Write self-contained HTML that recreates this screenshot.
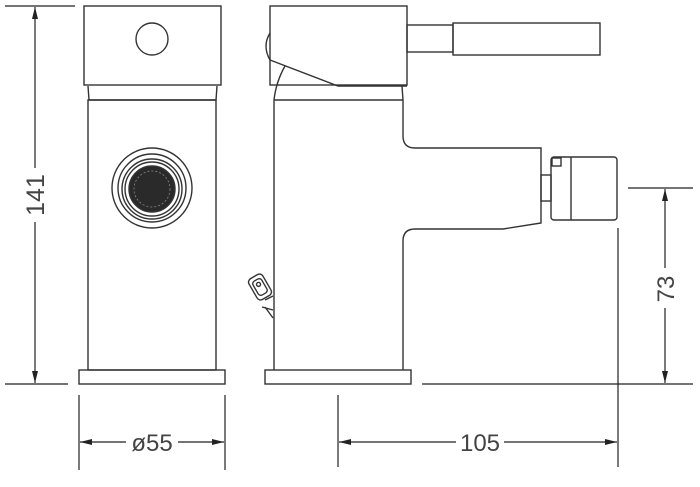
<!DOCTYPE html>
<html><head><style>html,body{margin:0;padding:0;background:#fff;}svg{display:block}</style></head>
<body>
<svg width="700" height="487" viewBox="0 0 700 487" xmlns="http://www.w3.org/2000/svg">
<defs>
<marker id="a" viewBox="0 0 12 6" refX="12" refY="3" markerWidth="12" markerHeight="6" orient="auto-start-reverse" markerUnits="userSpaceOnUse"><path d="M0,0 L12,3 L0,6 Z" fill="#222"/></marker>
</defs>
<g fill="none" stroke="#333" stroke-width="1.4">
<!-- left view -->
<rect x="84" y="6" width="137" height="79"/>
<circle cx="152" cy="39" r="16"/>
<path d="M88,86 L89,100 L216,100 L217,86"/>
<rect x="88" y="100" width="128" height="270"/>
<circle cx="152" cy="188" r="40"/>
<circle cx="152" cy="188" r="34"/>
<circle cx="152" cy="189" r="30"/>
<circle cx="152" cy="189" r="27"/>
<circle cx="152" cy="189" r="23" fill="#2a2a2a"/>
<circle cx="152" cy="189" r="18" stroke="#888" stroke-width="0.8" stroke-dasharray="2 2"/>
<rect x="79" y="370" width="146" height="14"/>
<!-- side view -->
<rect x="270" y="6" width="137" height="79"/>
<rect x="407" y="25" width="46" height="27"/>
<rect x="453" y="23" width="147" height="32"/>
<path d="M270,33 Q262,46 270,60"/>
<path d="M270,60 L338,86 L407,86"/>
<path d="M285,66 Q276,82 274,100"/>
<path d="M274,100 L403,100 M402,86 L403,100"/>
<path d="M274,100 L274,370"/>
<path d="M403,100 L403,136 Q403,148 415,148 L541,148 L541,223 L503,229 L415,229 Q403,229 403,241 L403,370"/>
<rect x="541" y="175" width="10" height="26"/>
<rect x="551" y="157" width="66" height="63" rx="3"/>
<path d="M571,157 L571,220"/>
<rect x="552" y="158" width="9" height="8"/>
<rect x="265" y="370" width="146" height="14"/>
<g transform="rotate(-30 260 287)"><rect x="252" y="275" width="16" height="24" rx="4"/><rect x="255" y="279" width="10" height="16" rx="3"/><circle cx="260" cy="284" r="2"/></g>
<path d="M265,300 L273,296 M262,307 L273,310 M265,307 L273,318"/>
</g>
<g fill="none" stroke="#222" stroke-width="1.2">
<path d="M5,6 L75,6 M5,384 L68,384 M422,384 L693,384 M628,188 L693,188"/>
<path d="M79,395 L79,470 M225,395 L225,470 M338,395 L338,467 M618,228 L618,467"/>
<path d="M35,168 L35,7" marker-end="url(#a)"/>
<path d="M35,222 L35,383" marker-end="url(#a)"/>
<path d="M665,268 L665,189" marker-end="url(#a)"/>
<path d="M665,308 L665,383" marker-end="url(#a)"/>
<path d="M126,442 L80,442" marker-end="url(#a)"/>
<path d="M178,442 L224,442" marker-end="url(#a)"/>
<path d="M456,442 L339,442" marker-end="url(#a)"/>
<path d="M504,442 L617,442" marker-end="url(#a)"/>
</g>
<g font-family="Liberation Sans, sans-serif" font-size="24" fill="#444" text-anchor="middle">
<text x="152" y="451">ø55</text>
<text x="480" y="451">105</text>
<text transform="translate(44,195) rotate(-90)" font-size="25">141</text>
<text transform="translate(674,289) rotate(-90)">73</text>
</g>
</svg>
</body></html>
